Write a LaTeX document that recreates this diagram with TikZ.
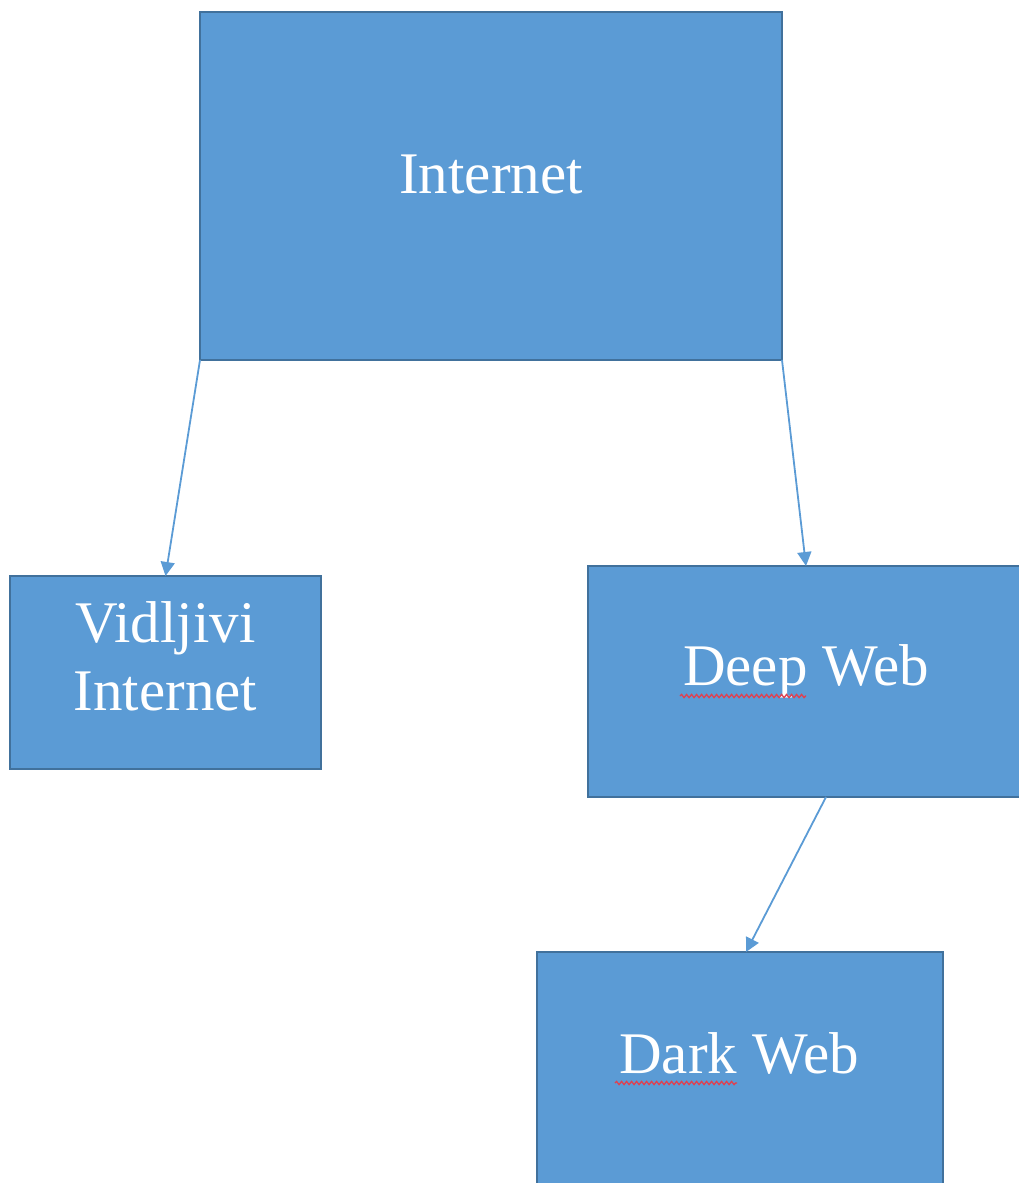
\documentclass[tikz,border=0pt]{standalone}
\usepackage{fontspec}
\setmainfont{Liberation Serif}
\usetikzlibrary{arrows.meta,decorations.pathmorphing}
\definecolor{boxfill}{HTML}{5B9BD5}
\definecolor{boxline}{HTML}{41719C}
\definecolor{squig}{HTML}{E0404F}
\begin{document}
\begin{tikzpicture}[x=1pt,y=-1pt,
  box/.style={draw=boxline,line width=1.5pt,fill=boxfill,inner sep=0pt,outer sep=0pt},
  lbl/.style={anchor=base,text=white,inner sep=0pt,align=center,font=\fontsize{59}{68}\selectfont},
  conn/.style={draw=boxfill,line width=1.8pt,-{Triangle[width=14pt,length=14pt]}},
  spell/.style={draw=squig,line width=1.3pt,decorate,decoration={snake,segment length=5pt,amplitude=1.6pt}}]
\useasboundingbox (0,0) rectangle (1019,1183);
\clip (0,0) rectangle (1019,1183);
% boxes
\node[box,minimum width=582pt,minimum height=348pt] (inet) at (491,186) {};
\node[box,minimum width=311pt,minimum height=193pt] (vid) at (165.5,672.5) {};
\node[box,minimum width=436pt,minimum height=231pt] (deep) at (806,681.5) {};
\node[box,minimum width=406pt,minimum height=250pt] (dark) at (740,1077) {};
% labels
\node[lbl] (inetl) at (491,193) {Internet};
\node[lbl] (vidl) at (165.5,710) {Vidljivi\\Internet};
\node[lbl] (deepl) at (806,685) {Deep Web};
\node[lbl] (darkl) at (739,1073) {Dark Web};
% spell-check marks
\coordinate (s1a) at (680,696); \coordinate (s1b) at (806,696);
\coordinate (s2a) at (615,1083); \coordinate (s2b) at (737,1083);
\path[spell] (s1a) -- (s1b);
\path[spell] (s2a) -- (s2b);
% connectors
\draw[conn] (inet.south west) -- (vid.north);
\draw[conn] (inet.south east) -- (deep.north);
\draw[conn] ([xshift=20pt]deep.south) -- ([xshift=6pt]dark.north);
\end{tikzpicture}
\end{document}
